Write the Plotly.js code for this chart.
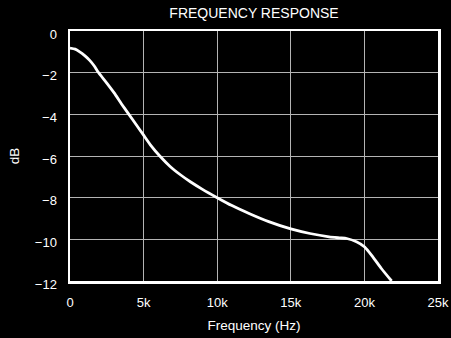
<!DOCTYPE html>
<html>
<head>
<meta charset="utf-8">
<script src="https://cdn.plot.ly/plotly-3.0.1.min.js"></script>
<style>html,body{margin:0;padding:0;background:#000;}#chart{width:451px;height:338px;}</style>
</head>
<body>
<div id="chart"></div>
<script>
const freqHz = [0, 350, 660, 1000, 1340, 1650, 1910, 2500, 3000, 3500, 4000, 4500, 5000, 5500, 6100, 6800, 7500, 8200, 9000, 10000, 11000, 12200, 13500, 15000, 16300, 17600, 18300, 18800, 19460, 20020, 20580, 21150, 21850];
const responseDb = [-0.82, -0.87, -1.0, -1.18, -1.41, -1.68, -1.97, -2.5, -2.97, -3.5, -4.0, -4.5, -5.0, -5.5, -6.0, -6.5, -6.9, -7.25, -7.6, -8.0, -8.38, -8.77, -9.15, -9.5, -9.72, -9.88, -9.93, -9.96, -10.12, -10.37, -10.85, -11.4, -12.0];
const xTickVals = [0, 5000, 10000, 15000, 20000, 25000];
const xTickText = ['0', '5k', '10k', '15k', '20k', '25k'];
const yTickVals = [0, -2, -4, -6, -8, -10, -12];

const trace = {
  x: freqHz, y: responseDb, mode: 'lines', type: 'scatter',
  line: {color: '#ffffff', width: 2.8, shape: 'spline', smoothing: 0.6},
  hoverinfo: 'skip'
};
const fam = 'Liberation Sans, Arial, sans-serif';
const fnt = {family: fam, size: 13, color: '#ffffff'};
const layout = {
  width: 451, height: 338,
  paper_bgcolor: '#000000', plot_bgcolor: '#000000',
  margin: {l: 70, r: 13, t: 31, b: 57},
  showlegend: false,
  font: fnt,
  title: {text: 'FREQUENCY RESPONSE', font: {family: fam, size: 14, color: '#fff'}, x: 0.5, xref: 'paper', y: 0.96, yanchor: 'middle'},
  xaxis: {
    range: [0, 25000], tickvals: xTickVals, ticktext: xTickText,
    showgrid: true, gridcolor: '#b4b4b4', gridwidth: 1,
    showline: true, linecolor: '#ffffff', linewidth: 2.5, mirror: true,
    zeroline: false, ticks: '', ticklabelstandoff: 8, tickfont: fnt,
    title: {text: 'Frequency (Hz)', font: {family: fam, size: 13.5, color: '#fff'}, standoff: 12}
  },
  yaxis: {
    range: [-12, 0], tickvals: yTickVals,
    showgrid: true, gridcolor: '#b4b4b4', gridwidth: 1,
    showline: true, linecolor: '#ffffff', linewidth: 2.5, mirror: true,
    zeroline: false, ticks: '', ticklabelstandoff: 8, ticklabelshift: 3, tickfont: fnt,
    title: {text: 'dB', font: {family: fam, size: 13.5, color: '#fff'}, standoff: 12}
  }
};
Plotly.newPlot('chart', [trace], layout, {staticPlot: true, displayModeBar: false});
</script>
</body>
</html>
